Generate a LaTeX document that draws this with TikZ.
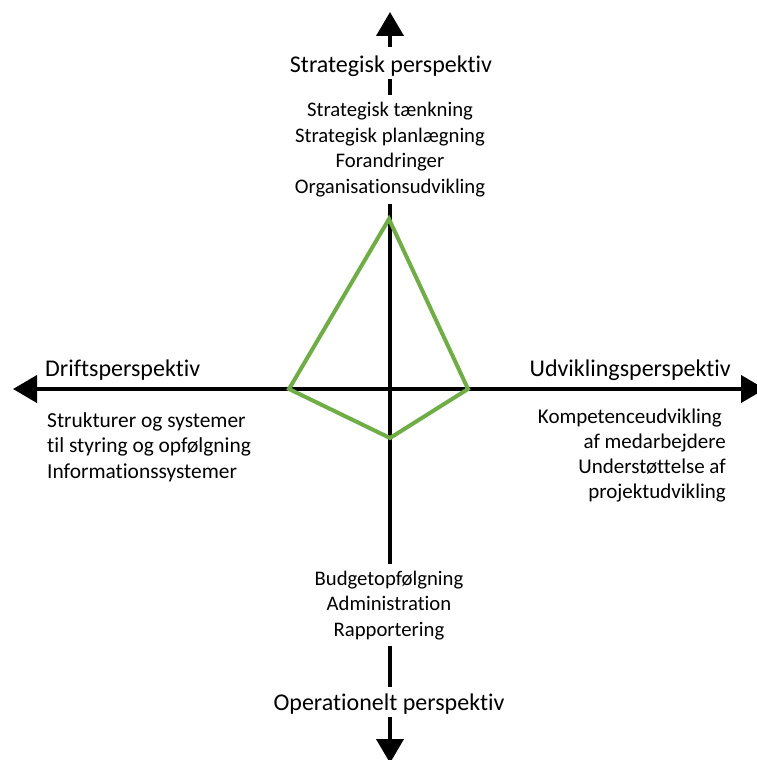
\documentclass[tikz,border=0pt]{standalone}
\usepackage{fontspec}
\setmainfont{Carlito}[Ligatures={NoCommon}]
\usetikzlibrary{arrows.meta}
\definecolor{profilegreen}{HTML}{70AD47}
\tikzset{
  axis/.style={line width=4pt, {Triangle[length=24pt,width=27pt]}-{Triangle[length=24pt,width=27pt]}},
  mainlabel/.style={font=\fontsize{24}{28}\selectfont, inner sep=0pt},
  sublabel/.style={font=\fontsize{20.7}{25.5}\selectfont, inner sep=0pt},
  profile/.style={draw=profilegreen, line width=4pt, line join=miter},
}
\begin{document}
\begin{tikzpicture}[x=1pt,y=-1pt]
  \useasboundingbox (0,0) rectangle (757,760);
  \clip (0,0) rectangle (757,760);

  % axis end points
  \coordinate (west) at (13,389);
  \coordinate (east) at (765,389);
  \coordinate (north) at (390,12);
  \coordinate (south) at (390,763);

  \draw[axis] (west) -- (east);
  \draw[axis] (south) -- (north);

  % profile polygon
  \coordinate (ptop) at (389,219);
  \coordinate (pright) at (468,389);
  \coordinate (pbottom) at (390,438);
  \coordinate (pleft) at (289,389);
  \draw[profile] (ptop) -- (pright) -- (pbottom) -- (pleft) -- cycle;

  % vertical axis labels (multi-line nodes are placed by their last baseline)
  \node[mainlabel, fill=white, text height=25pt, text depth=7pt, anchor=base]
    (strat) at (391,72) {Strategisk perspektiv};
  \node[sublabel, fill=white, align=center, inner ysep=7pt, anchor=base]
    (stratlist) at (390,193) {Strategisk tænkning\\Strategisk planlægning\\Forandringer\\Organisationsudvikling};

  \node[sublabel, fill=white, align=center, inner ysep=6.5pt, anchor=base]
    (oplist) at (389,636) {Budgetopfølgning\\Administration\\Rapportering};
  \node[mainlabel, fill=white, text height=23pt, text depth=7pt, anchor=base]
    (op) at (389,710) {Operationelt perspektiv};

  % horizontal axis labels
  \node[mainlabel, anchor=base west] (drift) at (45,376) {Driftsperspektiv};
  \node[sublabel, font=\fontsize{21.4}{25.5}\selectfont, align=left, anchor=base west] (driftlist) at (47,478)
    {Strukturer og systemer\\til styring og opfølgning\\Informationssystemer};

  \node[mainlabel, anchor=base east] (udv) at (731,376) {Udviklingsperspektiv};
  \node[sublabel, font=\fontsize{21}{25}\selectfont, align=right, anchor=base east] (udvlist) at (726,498)
    {Kompetenceudvikling\hspace*{4pt}\\af medarbejdere\\Understøttelse af\hspace*{4pt}\\projektudvikling};
\end{tikzpicture}
\end{document}
